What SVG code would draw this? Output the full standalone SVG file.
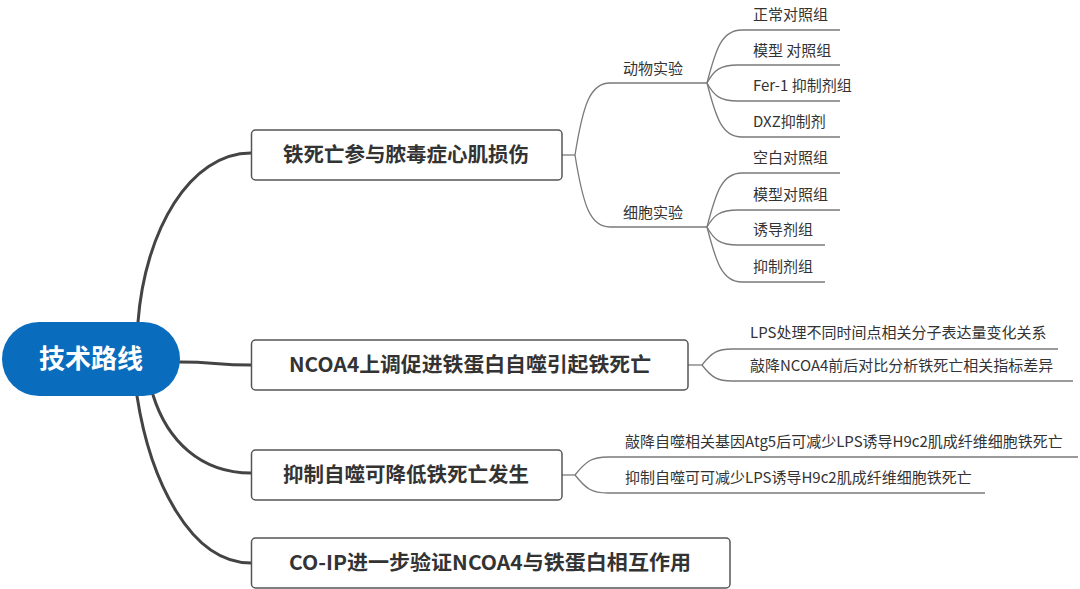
<svg xmlns="http://www.w3.org/2000/svg" width="1080" height="589" viewBox="0 0 1080 589">
<style>
text{font-family:"Noto Sans CJK SC","Noto Sans",sans-serif;}
.main{fill:none;stroke:#444;stroke-width:3;stroke-linecap:round}
.sub{fill:none;stroke:#7a7a7a;stroke-width:1.3}
.box{fill:#fff;stroke:#555;stroke-width:1.5}
.bt{font-size:20.5px;font-weight:bold;fill:#333;text-anchor:middle}
.lt{font-size:15px;fill:#333}
.rt{font-size:26px;font-weight:bold;fill:#fff;text-anchor:middle}
</style>
<rect width="1080" height="589" fill="#fff"/>
<g id="connectors">
<path class="main" d="M138,322 C145,230 190,153 251,153"/>
<path class="main" d="M180,362 C215,362 215,365 251,365"/>
<path class="main" d="M153,395 C167,440 200,473 251,473"/>
<path class="main" d="M137,396 C150,480 190,563 251,563"/>
<path class="sub" d="M562,155 L575,155"/>
<path class="sub" d="M575,155 C583,105 590,83 610,83 L707,83"/>
<path class="sub" d="M575,155 C583,205 590,227 610,227 L707,227"/>
<path class="sub" d="M707,83 C716,48 722,30 742,30 L840,30"/>
<path class="sub" d="M707,83 C714,70 720,65 738,65 L840,65"/>
<path class="sub" d="M707,83 C714,96 720,101 738,101 L840,101"/>
<path class="sub" d="M707,83 C716,118 722,137 742,137 L840,137"/>
<path class="sub" d="M707,227 C716,192 722,173 742,173 L840,173"/>
<path class="sub" d="M707,227 C714,215 720,210 738,210 L840,210"/>
<path class="sub" d="M707,227 C714,240 720,245 738,245 L825,245"/>
<path class="sub" d="M707,227 C716,262 722,282 742,282 L825,282"/>
<path class="sub" d="M688,365 L702,365"/>
<path class="sub" d="M702,365 C712,352 718,349 732,349 L1058,349"/>
<path class="sub" d="M702,365 C712,378 718,381 732,381 L1073,381"/>
<path class="sub" d="M562,475 L575,475"/>
<path class="sub" d="M575,475 C586,461 592,457 608,457 L1078,457"/>
<path class="sub" d="M575,475 C586,489 592,493 608,493 L985,493"/>
</g>
<g id="root">
<rect x="2" y="322" width="178" height="74" rx="37" fill="#0a6cbd"/>
<text class="rt" x="91" y="368">技术路线</text>
</g>
<g id="b1">
<rect class="box" x="251.5" y="130" width="310.5" height="50" rx="4"/>
<text class="bt" x="406" y="162">铁死亡参与脓毒症心肌损伤</text>
</g>
<g id="b2">
<rect class="box" x="251.5" y="340" width="436.5" height="50" rx="4"/>
<text class="bt" x="470" y="372" textLength="362" lengthAdjust="spacingAndGlyphs">NCOA4上调促进铁蛋白自噬引起铁死亡</text>
</g>
<g id="b3">
<rect class="box" x="251.5" y="450" width="310.5" height="50" rx="4"/>
<text class="bt" x="406" y="482">抑制自噬可降低铁死亡发生</text>
</g>
<g id="b4">
<rect class="box" x="251.5" y="538" width="478.5" height="50" rx="4"/>
<text class="bt" x="490" y="570" textLength="402" lengthAdjust="spacingAndGlyphs">CO-IP进一步验证NCOA4与铁蛋白相互作用</text>
</g>
<g id="s-animal"><text class="lt" x="623" y="74">动物实验</text></g>
<g id="s-cell"><text class="lt" x="623" y="218">细胞实验</text></g>
<g id="l1"><text class="lt" x="753" y="20">正常对照组</text></g>
<g id="l2"><text class="lt" x="753" y="56">模型 对照组</text></g>
<g id="l3"><text class="lt" x="753" y="91">Fer-1 抑制剂组</text></g>
<g id="l4"><text class="lt" x="753" y="127">DXZ抑制剂</text></g>
<g id="l5"><text class="lt" x="753" y="163">空白对照组</text></g>
<g id="l6"><text class="lt" x="753" y="200">模型对照组</text></g>
<g id="l7"><text class="lt" x="753" y="235">诱导剂组</text></g>
<g id="l8"><text class="lt" x="753" y="272">抑制剂组</text></g>
<g id="l9"><text class="lt" x="750" y="338">LPS处理不同时间点相关分子表达量变化关系</text></g>
<g id="l10"><text class="lt" x="750" y="371">敲降NCOA4前后对比分析铁死亡相关指标差异</text></g>
<g id="l11"><text class="lt" x="625" y="447">敲降自噬相关基因Atg5后可减少LPS诱导H9c2肌成纤维细胞铁死亡</text></g>
<g id="l12"><text class="lt" x="625" y="483">抑制自噬可可减少LPS诱导H9c2肌成纤维细胞铁死亡</text></g>
</svg>
